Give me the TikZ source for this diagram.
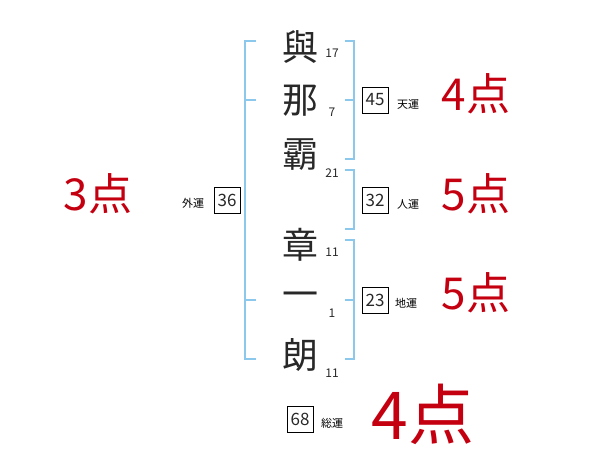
\documentclass[tikz,border=0pt]{standalone}
\usepackage{fontspec}
\setmainfont{Noto Sans CJK JP}
\usepackage{tikz}
\definecolor{lblue}{RGB}{140,200,236}
\definecolor{pred}{RGB}{196,0,16}
\definecolor{kgray}{RGB}{40,40,40}
\newcommand\fsz[1]{\fontsize{#1}{#1}\selectfont}
\tikzstyle{kanji}=[inner sep=0pt,text=kgray,font=\fsz{36}]
\tikzstyle{strk} =[inner sep=0pt,text=kgray,font=\fsz{12}]
\tikzstyle{unbox}=[draw,line width=.8pt,minimum size=26pt,inner sep=0pt,text=kgray,font=\fsz{17}]
\tikzstyle{unlbl}=[inner sep=0pt,font=\fsz{11}]
\tikzstyle{pts}  =[inner sep=0pt,text=pred,font=\fsz{44}]
\tikzstyle{brk}  =[draw=lblue,line width=2pt]

\begin{document}
\begin{tikzpicture}[x=1pt,y=-1pt]
	\useasboundingbox (0,0) rectangle (600,470);
	% name
	\node[kanji] (k1) at (300,47)  {與};
	\node[kanji] (k2) at (300,101) {那};
	\node[kanji] (k3) at (300,155) {霸};
	\node[kanji] (k4) at (300,245) {章};
	\node[kanji] (k5) at (300,300) {一};
	\node[kanji] (k6) at (300,355) {朗};
	\node[strk] (s1) at (332,53)  {17};
	\node[strk] (s2) at (332,112) {7};
	\node[strk] (s3) at (332,173) {21};
	\node[strk] (s4) at (332,252) {11};
	\node[strk] (s5) at (332,313) {1};
	\node[strk] (s6) at (332,373) {11};
	% brackets
	\draw[brk] (256,41) -- (245,41) -- (245,359) -- (256,359);
	\draw[brk] (245,100) -- (256,100);
	\draw[brk] (245,300) -- (256,300);
	\draw[brk] (345,41) -- (354,41) -- (354,159) -- (345,159);
	\draw[brk] (354,100) -- (345,100);
	\draw[brk] (345,170) -- (354,170) -- (354,229) -- (345,229);
	\draw[brk] (345,240) -- (354,240) -- (354,359) -- (345,359);
	\draw[brk] (354,300) -- (345,300);
	% fortunes
	\node[unbox] (ten)  at (375,100) {45};
	\node[unbox] (jin)  at (375,200) {32};
	\node[unbox] (chi)  at (375,300) {23};
	\node[unbox] (gai)  at (227,200) {36};
	\node[unbox] (sou)  at (300,419) {68};
	\node[unlbl] (tenL) at (408,104) {天運};
	\node[unlbl] (jinL) at (408,204) {人運};
	\node[unlbl] (chiL) at (406,303) {地運};
	\node[unlbl] (gaiL) at (193,203) {外運};
	\node[unlbl] (souL) at (332,423) {総運};
	% points
	\node[pts] (tenP) at (476,94)  {4点};
	\node[pts] (jinP) at (476,194) {5点};
	\node[pts] (chiP) at (476,293) {5点};
	\node[pts] (gaiP) at (98,194)  {3点};
	\node[pts,font=\fsz{66}] (souP) at (423,414) {4点};
\end{tikzpicture}
\end{document}
